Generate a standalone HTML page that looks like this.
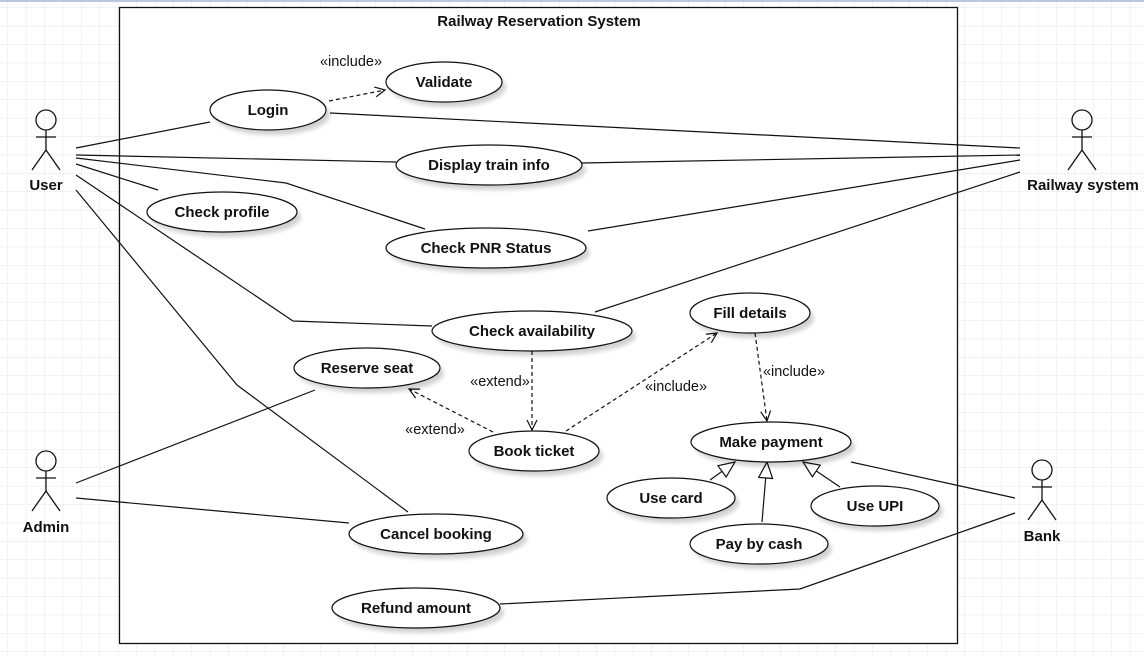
<!DOCTYPE html>
<html><head><meta charset="utf-8"><style>
html,body{margin:0;padding:0;background:#fff}
svg{display:block}
text{font-family:"Liberation Sans",sans-serif;fill:#111}
</style></head><body>
<svg width="1144" height="656" viewBox="0 0 1144 656" xmlns="http://www.w3.org/2000/svg">
<defs>
<pattern id="g" width="18.4" height="18.4" patternUnits="userSpaceOnUse" x="8" y="8">
<path d="M18.4 0V18.4H0" fill="none" stroke="#e6e6e6" stroke-width="1"/>
</pattern>
<marker id="oa" markerWidth="14" markerHeight="14" refX="11" refY="6" orient="auto" markerUnits="userSpaceOnUse">
<path d="M1 1L11 6L1 11" fill="none" stroke="#111" stroke-width="1.2"/>
</marker>
<marker id="tri" markerWidth="20" markerHeight="20" refX="17" refY="8" orient="auto" markerUnits="userSpaceOnUse">
<path d="M1 1L17 8L1 15Z" fill="#fff" stroke="#111" stroke-width="1.2"/>
</marker>
<filter id="sh" x="-20%" y="-20%" width="150%" height="170%"><feGaussianBlur stdDeviation="2"/></filter>
</defs>
<rect width="1144" height="656" fill="url(#g)"/>
<line x1="0" y1="1" x2="1144" y2="1" stroke="#b8c8e0" stroke-width="2"/>
<rect x="119.5" y="7.5" width="838" height="636" fill="#fff" stroke="#111" stroke-width="1.3"/>
<text x="539" y="26" text-anchor="middle" font-size="15" font-weight="bold">Railway Reservation System</text>

<g stroke="#111" stroke-width="1.2" fill="none">
<line x1="76" y1="148" x2="210" y2="122"/>
<line x1="76" y1="155" x2="396" y2="162"/>
<polyline points="76,158 286,183 425,229"/>
<line x1="76" y1="164" x2="158" y2="190"/>
<polyline points="76,175 293,321 432,326"/>
<polyline points="76,190 237,385 408,512"/>
<line x1="330" y1="113" x2="1020" y2="148"/>
<line x1="582" y1="163" x2="1020" y2="155"/>
<line x1="588" y1="231" x2="1020" y2="160"/>
<line x1="595" y1="312" x2="1020" y2="172"/>
<line x1="76" y1="483" x2="315" y2="390"/>
<line x1="76" y1="498" x2="349" y2="523"/>
<line x1="851" y1="462" x2="1015" y2="498"/>
<polyline points="500,604 800,589 1015,513"/>
<g stroke-dasharray="4,3">
<line x1="329" y1="101" x2="385" y2="90" marker-end="url(#oa)"/>
<line x1="532" y1="351" x2="532" y2="430" marker-end="url(#oa)"/>
<line x1="493" y1="432" x2="409" y2="389" marker-end="url(#oa)"/>
<line x1="566" y1="431" x2="717" y2="333" marker-end="url(#oa)"/>
<line x1="755" y1="333" x2="767" y2="421" marker-end="url(#oa)"/>
</g>
<line x1="710" y1="480" x2="735" y2="462" marker-end="url(#tri)"/>
<line x1="762" y1="522" x2="767" y2="462" marker-end="url(#tri)"/>
<line x1="840" y1="487" x2="803" y2="462" marker-end="url(#tri)"/>
</g>

<g font-size="15" font-weight="bold">
<g fill="#000" opacity="0.18" filter="url(#sh)">
<ellipse cx="448" cy="87" rx="58" ry="20"/><ellipse cx="272" cy="115" rx="58" ry="20"/>
<ellipse cx="493" cy="170" rx="93" ry="20"/><ellipse cx="226" cy="217" rx="75" ry="20"/>
<ellipse cx="490" cy="253" rx="100" ry="20"/><ellipse cx="536" cy="336" rx="100" ry="20"/>
<ellipse cx="754" cy="318" rx="60" ry="20"/><ellipse cx="371" cy="373" rx="73" ry="20"/>
<ellipse cx="538" cy="456" rx="65" ry="20"/><ellipse cx="775" cy="447" rx="80" ry="20"/>
<ellipse cx="675" cy="503" rx="64" ry="20"/><ellipse cx="879" cy="511" rx="64" ry="20"/>
<ellipse cx="763" cy="549" rx="69" ry="20"/><ellipse cx="440" cy="539" rx="87" ry="20"/>
<ellipse cx="420" cy="613" rx="84" ry="20"/>
</g>
<g fill="#fff" stroke="#111" stroke-width="1.2">
<ellipse cx="444" cy="82" rx="58" ry="20"/><ellipse cx="268" cy="110" rx="58" ry="20"/>
<ellipse cx="489" cy="165" rx="93" ry="20"/><ellipse cx="222" cy="212" rx="75" ry="20"/>
<ellipse cx="486" cy="248" rx="100" ry="20"/><ellipse cx="532" cy="331" rx="100" ry="20"/>
<ellipse cx="750" cy="313" rx="60" ry="20"/><ellipse cx="367" cy="368" rx="73" ry="20"/>
<ellipse cx="534" cy="451" rx="65" ry="20"/><ellipse cx="771" cy="442" rx="80" ry="20"/>
<ellipse cx="671" cy="498" rx="64" ry="20"/><ellipse cx="875" cy="506" rx="64" ry="20"/>
<ellipse cx="759" cy="544" rx="69" ry="20"/><ellipse cx="436" cy="534" rx="87" ry="20"/>
<ellipse cx="416" cy="608" rx="84" ry="20"/>
</g>
<g text-anchor="middle">
<text x="444" y="87">Validate</text><text x="268" y="115">Login</text>
<text x="489" y="170">Display train info</text><text x="222" y="217">Check profile</text>
<text x="486" y="253">Check PNR Status</text><text x="532" y="336">Check availability</text>
<text x="750" y="318">Fill details</text><text x="367" y="373">Reserve seat</text>
<text x="534" y="456">Book ticket</text><text x="771" y="447">Make payment</text>
<text x="671" y="503">Use card</text><text x="875" y="511">Use UPI</text>
<text x="759" y="549">Pay by cash</text><text x="436" y="539">Cancel booking</text>
<text x="416" y="613">Refund amount</text>
</g>
</g>

<g font-size="14.5" fill="#222" text-anchor="middle">
<text x="351" y="66">«include»</text>
<text x="500" y="386">«extend»</text>
<text x="435" y="434">«extend»</text>
<text x="676" y="391">«include»</text>
<text x="794" y="376">«include»</text>
</g>

<g stroke="#111" stroke-width="1.3" fill="none">
<g transform="translate(46,110)"><circle cx="0" cy="10" r="10"/><line x1="0" y1="20" x2="0" y2="40"/><line x1="-10" y1="27" x2="10" y2="27"/><polyline points="-14,60 0,40 14,60"/></g>
<g transform="translate(1082,110)"><circle cx="0" cy="10" r="10"/><line x1="0" y1="20" x2="0" y2="40"/><line x1="-10" y1="27" x2="10" y2="27"/><polyline points="-14,60 0,40 14,60"/></g>
<g transform="translate(46,451)"><circle cx="0" cy="10" r="10"/><line x1="0" y1="20" x2="0" y2="40"/><line x1="-10" y1="27" x2="10" y2="27"/><polyline points="-14,60 0,40 14,60"/></g>
<g transform="translate(1042,460)"><circle cx="0" cy="10" r="10"/><line x1="0" y1="20" x2="0" y2="40"/><line x1="-10" y1="27" x2="10" y2="27"/><polyline points="-14,60 0,40 14,60"/></g>
</g>
<g font-size="15" font-weight="bold" text-anchor="middle">
<text x="46" y="190">User</text>
<text x="1083" y="190">Railway system</text>
<text x="46" y="532">Admin</text>
<text x="1042" y="541">Bank</text>
</g>
</svg>
</body></html>
